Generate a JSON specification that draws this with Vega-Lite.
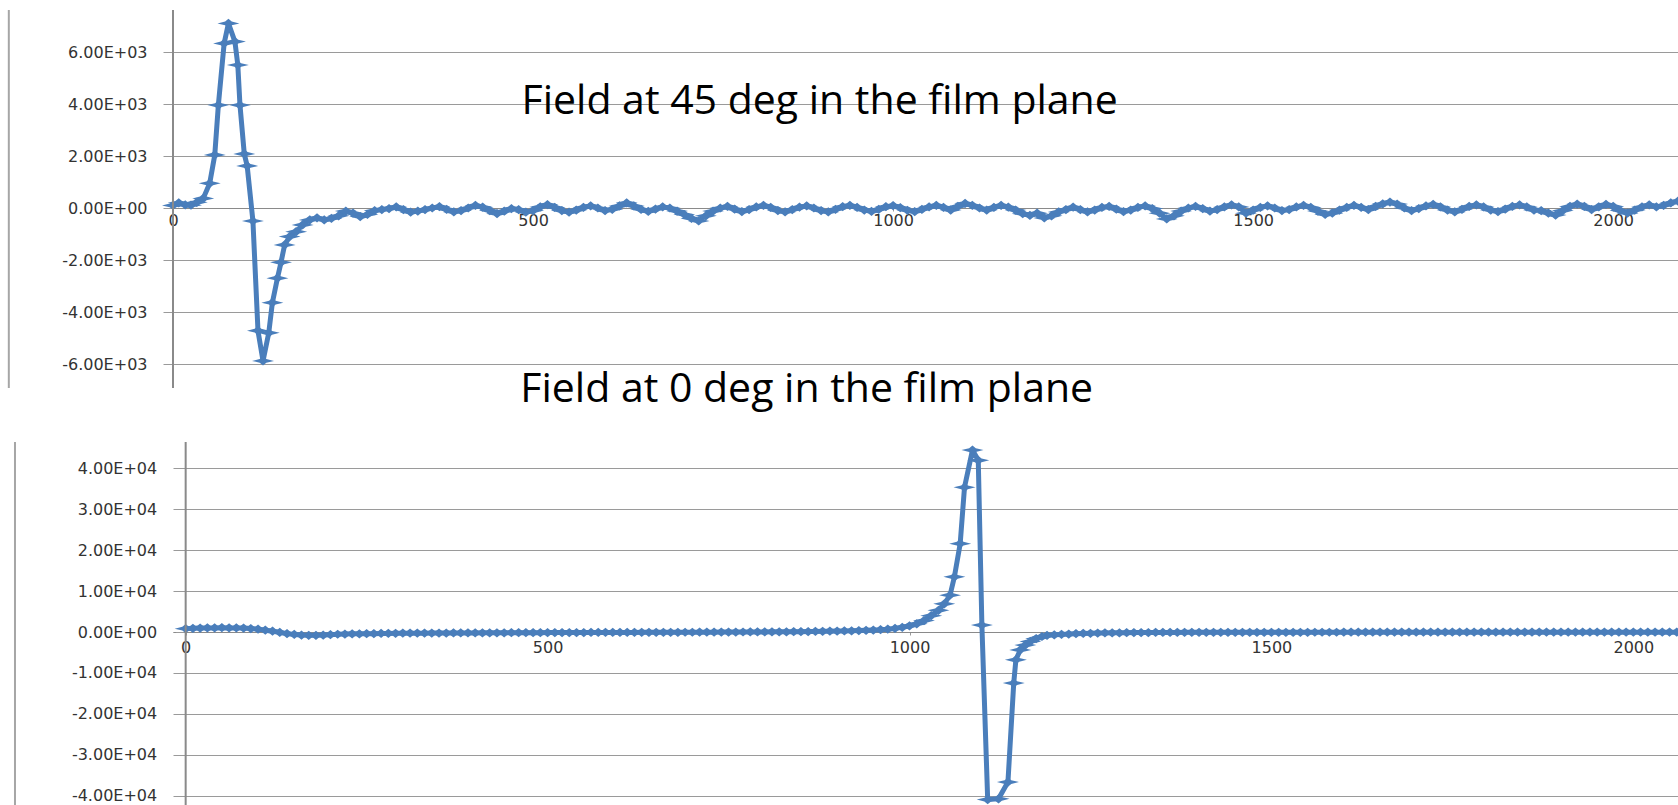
{
  "$schema": "https://vega.github.io/schema/vega-lite/v6.json",
  "width": 1505,
  "height": 795,
  "autosize": {"type": "none"},
  "padding": {"left": 173, "top": 10, "right": 0, "bottom": 0},
  "background": "white",
  "config": {
    "view": {"stroke": null},
    "axis": {
      "labelFont": "DejaVu Sans",
      "labelFontSize": 16,
      "labelColor": "#333333",
      "gridColor": "#9a9a9a",
      "gridWidth": 1,
      "tickColor": "#9a9a9a",
      "domainColor": "#8a8a8a",
      "title": null
    }
  },
  "datasets": {
    "top": [
      {"x":0,"v":100},{"x":8,"v":200},{"x":17,"v":120},{"x":25,"v":110},{"x":33,"v":220},{"x":42,"v":370},{"x":51,"v":950},{"x":58,"v":2040},{"x":63,"v":3960},{"x":71,"v":6330},{"x":77,"v":7100},{"x":86,"v":6400},{"x":90,"v":5500},{"x":93,"v":3960},{"x":99,"v":2080},{"x":103,"v":1620},{"x":111,"v":-500},{"x":118,"v":-4720},{"x":125,"v":-5880},{"x":133,"v":-4800},{"x":138,"v":-3640},{"x":145,"v":-2700},{"x":150,"v":-2090},{"x":155,"v":-1420},{"x":162,"v":-1100},{"x":171,"v":-910},{"x":180,"v":-650},{"x":190,"v":-460},
      {"x":200,"v":-380},{"x":210,"v":-460},{"x":220,"v":-400},{"x":230,"v":-300},{"x":240,"v":-120},{"x":250,"v":-200},{"x":260,"v":-330},{"x":270,"v":-250},{"x":280,"v":-100},{"x":290,"v":-60},
      {"x":300,"v":-20},{"x":310,"v":40},{"x":320,"v":-60},{"x":330,"v":-160},{"x":340,"v":-120},{"x":350,"v":-60},{"x":360,"v":0},{"x":370,"v":50},{"x":380,"v":-50},{"x":390,"v":-150},
      {"x":400,"v":-100},{"x":410,"v":0},{"x":420,"v":100},{"x":430,"v":30},{"x":440,"v":-100},{"x":450,"v":-220},{"x":460,"v":-120},{"x":470,"v":-20},{"x":480,"v":-60},{"x":490,"v":-160},
      {"x":500,"v":-100},{"x":510,"v":40},{"x":520,"v":130},{"x":530,"v":20},{"x":540,"v":-100},{"x":550,"v":-160},{"x":560,"v":-80},{"x":570,"v":20},{"x":580,"v":80},{"x":590,"v":0},
      {"x":600,"v":-100},{"x":610,"v":-50},{"x":620,"v":80},{"x":630,"v":200},{"x":640,"v":80},{"x":650,"v":-50},{"x":660,"v":-130},{"x":670,"v":-40},{"x":680,"v":40},{"x":690,"v":0},
      {"x":700,"v":-120},{"x":710,"v":-250},{"x":720,"v":-400},{"x":730,"v":-500},{"x":740,"v":-300},{"x":750,"v":-120},{"x":760,"v":0},{"x":770,"v":60},{"x":780,"v":-40},{"x":790,"v":-140},
      {"x":800,"v":-60},{"x":810,"v":40},{"x":820,"v":100},{"x":830,"v":20},{"x":840,"v":-100},{"x":850,"v":-150},{"x":860,"v":-60},{"x":870,"v":30},{"x":880,"v":80},{"x":890,"v":0},
      {"x":900,"v":-100},{"x":910,"v":-150},{"x":920,"v":-50},{"x":930,"v":50},{"x":940,"v":100},{"x":950,"v":20},{"x":960,"v":-80},{"x":970,"v":-130},{"x":980,"v":-50},{"x":990,"v":50},
      {"x":1000,"v":90},{"x":1010,"v":10},{"x":1020,"v":-90},{"x":1030,"v":-140},{"x":1040,"v":-50},{"x":1050,"v":40},{"x":1060,"v":100},{"x":1070,"v":20},{"x":1080,"v":-80},{"x":1090,"v":60},
      {"x":1100,"v":180},{"x":1110,"v":100},{"x":1120,"v":0},{"x":1130,"v":-80},{"x":1140,"v":20},{"x":1150,"v":100},{"x":1160,"v":30},{"x":1170,"v":-80},{"x":1180,"v":-220},{"x":1190,"v":-280},
      {"x":1200,"v":-200},{"x":1210,"v":-380},{"x":1220,"v":-300},{"x":1230,"v":-150},{"x":1240,"v":-60},{"x":1250,"v":30},{"x":1260,"v":-60},{"x":1270,"v":-150},{"x":1280,"v":-80},{"x":1290,"v":20},
      {"x":1300,"v":60},{"x":1310,"v":-40},{"x":1320,"v":-140},{"x":1330,"v":-80},{"x":1340,"v":20},{"x":1350,"v":80},{"x":1360,"v":-20},{"x":1370,"v":-200},{"x":1380,"v":-420},{"x":1390,"v":-300},
      {"x":1400,"v":-120},{"x":1410,"v":0},{"x":1420,"v":60},{"x":1430,"v":-20},{"x":1440,"v":-120},{"x":1450,"v":-60},{"x":1460,"v":40},{"x":1470,"v":120},{"x":1480,"v":40},{"x":1490,"v":-200},
      {"x":1500,"v":-80},{"x":1510,"v":20},{"x":1520,"v":80},{"x":1530,"v":0},{"x":1540,"v":-100},{"x":1550,"v":-60},{"x":1560,"v":40},{"x":1570,"v":100},{"x":1580,"v":20},{"x":1590,"v":-120},
      {"x":1600,"v":-250},{"x":1610,"v":-200},{"x":1620,"v":-80},{"x":1630,"v":20},{"x":1640,"v":100},{"x":1650,"v":20},{"x":1660,"v":-60},{"x":1670,"v":60},{"x":1680,"v":160},{"x":1690,"v":230},
      {"x":1700,"v":150},{"x":1710,"v":0},{"x":1720,"v":-100},{"x":1730,"v":-20},{"x":1740,"v":80},{"x":1750,"v":140},{"x":1760,"v":40},{"x":1770,"v":-80},{"x":1780,"v":-150},{"x":1790,"v":-50},
      {"x":1800,"v":60},{"x":1810,"v":120},{"x":1820,"v":40},{"x":1830,"v":-80},{"x":1840,"v":-140},{"x":1850,"v":-40},{"x":1860,"v":60},{"x":1870,"v":120},{"x":1880,"v":40},{"x":1890,"v":-80},
      {"x":1900,"v":-100},{"x":1910,"v":-200},{"x":1920,"v":-270},{"x":1930,"v":-100},{"x":1940,"v":60},{"x":1950,"v":150},{"x":1960,"v":60},{"x":1970,"v":-60},{"x":1980,"v":40},{"x":1990,"v":140},
      {"x":2000,"v":60},{"x":2010,"v":-100},{"x":2020,"v":-200},{"x":2030,"v":-80},{"x":2040,"v":40},{"x":2050,"v":120},{"x":2060,"v":40},{"x":2070,"v":100},{"x":2080,"v":200},{"x":2090,"v":260}
    ],
    "bottom": [
      {"x":0,"v":800},{"x":10,"v":900},{"x":20,"v":950},{"x":30,"v":1000},{"x":40,"v":1000},{"x":50,"v":1050},{"x":60,"v":1000},{"x":70,"v":1000},{"x":80,"v":950},{"x":90,"v":850},
      {"x":100,"v":700},{"x":110,"v":450},{"x":120,"v":200},{"x":130,"v":-100},{"x":140,"v":-400},{"x":150,"v":-600},{"x":160,"v":-750},{"x":170,"v":-800},{"x":180,"v":-800},{"x":190,"v":-750},
      {"x":200,"v":-650},{"x":210,"v":-550},{"x":220,"v":-500},{"x":230,"v":-450},{"x":240,"v":-450},{"x":250,"v":-400},{"x":260,"v":-400},{"x":270,"v":-350},{"x":280,"v":-350},{"x":290,"v":-330},
      {"x":300,"v":-300},{"x":310,"v":-300},{"x":320,"v":-280},{"x":330,"v":-280},{"x":340,"v":-260},{"x":350,"v":-250},{"x":360,"v":-250},{"x":370,"v":-240},{"x":380,"v":-230},{"x":390,"v":-220},
      {"x":400,"v":-220},{"x":410,"v":-210},{"x":420,"v":-200},{"x":430,"v":-200},{"x":440,"v":-190},{"x":450,"v":-180},{"x":460,"v":-180},{"x":470,"v":-170},{"x":480,"v":-160},{"x":490,"v":-160},
      {"x":500,"v":-150},{"x":510,"v":-150},{"x":520,"v":-140},{"x":530,"v":-140},{"x":540,"v":-130},{"x":550,"v":-130},{"x":560,"v":-120},{"x":570,"v":-120},{"x":580,"v":-110},{"x":590,"v":-110},
      {"x":600,"v":-100},{"x":610,"v":-100},{"x":620,"v":-100},{"x":630,"v":-90},{"x":640,"v":-90},{"x":650,"v":-80},{"x":660,"v":-80},{"x":670,"v":-70},{"x":680,"v":-70},{"x":690,"v":-60},
      {"x":700,"v":-60},{"x":710,"v":-50},{"x":720,"v":-50},{"x":730,"v":-40},{"x":740,"v":-30},{"x":750,"v":-20},{"x":760,"v":-10},{"x":770,"v":0},{"x":780,"v":10},{"x":790,"v":20},
      {"x":800,"v":30},{"x":810,"v":40},{"x":820,"v":50},{"x":830,"v":60},{"x":840,"v":70},{"x":850,"v":90},{"x":860,"v":110},{"x":870,"v":130},{"x":880,"v":160},{"x":890,"v":190},
      {"x":900,"v":220},{"x":910,"v":260},{"x":920,"v":300},{"x":930,"v":350},{"x":940,"v":410},{"x":950,"v":480},{"x":960,"v":560},{"x":970,"v":700},{"x":980,"v":880},{"x":990,"v":1150},
      {"x":1000,"v":1500},{"x":1010,"v":2000},{"x":1020,"v":2800},{"x":1030,"v":4000},{"x":1040,"v":5300},{"x":1048,"v":6900},{"x":1056,"v":9000},{"x":1062,"v":13500},{"x":1070,"v":21600},{"x":1076,"v":35400},
      {"x":1087,"v":44500},{"x":1095,"v":42000},{"x":1100,"v":1700},{"x":1108,"v":-41000},{"x":1123,"v":-40800},{"x":1136,"v":-36700},{"x":1144,"v":-12500},{"x":1147,"v":-6800},{"x":1153,"v":-4400},{"x":1160,"v":-3200},
      {"x":1167,"v":-2300},{"x":1175,"v":-1600},{"x":1183,"v":-1100},{"x":1190,"v":-850},{"x":1200,"v":-700},{"x":1210,"v":-600},{"x":1220,"v":-500},{"x":1230,"v":-420},{"x":1240,"v":-360},{"x":1250,"v":-310},
      {"x":1260,"v":-270},{"x":1270,"v":-240},{"x":1280,"v":-210},{"x":1290,"v":-190},{"x":1300,"v":-170},{"x":1310,"v":-150},{"x":1320,"v":-140},{"x":1330,"v":-130},{"x":1340,"v":-120},{"x":1350,"v":-110},
      {"x":1360,"v":-100},{"x":1370,"v":-95},{"x":1380,"v":-90},{"x":1390,"v":-85},{"x":1400,"v":-80},{"x":1410,"v":-80},{"x":1420,"v":-80},{"x":1430,"v":-78},{"x":1440,"v":-76},{"x":1450,"v":-75},
      {"x":1460,"v":-74},{"x":1470,"v":-72},{"x":1480,"v":-70},{"x":1490,"v":-70},{"x":1500,"v":-68},{"x":1510,"v":-67},{"x":1520,"v":-66},{"x":1530,"v":-65},{"x":1540,"v":-64},{"x":1550,"v":-63},
      {"x":1560,"v":-62},{"x":1570,"v":-61},{"x":1580,"v":-60},{"x":1590,"v":-60},{"x":1600,"v":-59},{"x":1610,"v":-58},{"x":1620,"v":-57},{"x":1630,"v":-56},{"x":1640,"v":-55},{"x":1650,"v":-55},
      {"x":1660,"v":-54},{"x":1670,"v":-54},{"x":1680,"v":-53},{"x":1690,"v":-53},{"x":1700,"v":-52},{"x":1710,"v":-52},{"x":1720,"v":-51},{"x":1730,"v":-51},{"x":1740,"v":-50},{"x":1750,"v":-50},
      {"x":1760,"v":-49},{"x":1770,"v":-49},{"x":1780,"v":-48},{"x":1790,"v":-48},{"x":1800,"v":-47},{"x":1810,"v":-47},{"x":1820,"v":-46},{"x":1830,"v":-46},{"x":1840,"v":-45},{"x":1850,"v":-45},
      {"x":1860,"v":-44},{"x":1870,"v":-44},{"x":1880,"v":-43},{"x":1890,"v":-43},{"x":1900,"v":-42},{"x":1910,"v":-42},{"x":1920,"v":-41},{"x":1930,"v":-41},{"x":1940,"v":-40},{"x":1950,"v":-40},
      {"x":1960,"v":-40},{"x":1970,"v":-39},{"x":1980,"v":-39},{"x":1990,"v":-38},{"x":2000,"v":-38},{"x":2010,"v":-37},{"x":2020,"v":-37},{"x":2030,"v":-36},{"x":2040,"v":-36},{"x":2050,"v":-35},{"x":2060,"v":-35}
    ]
  },
  "layer": [
    {
      "data": {"name": "top"},
      "mark": {"type": "line", "color": "#4A7EBB", "strokeWidth": 5, "strokeJoin": "round"},
      "encoding": {
        "x": {"field": "x", "type": "quantitative",
          "scale": {"domain": [0, 2090], "nice": false, "zero": false},
          "axis": {"orient": "bottom", "offset": -597, "values": [0, 500, 1000, 1500, 2000], "format": "d", "grid": false, "domain": true, "domainWidth": 1, "ticks": true, "tickSize": 3, "labelPadding": 1, "labelFontSize": 16, "labelFlush": false, "labelOverlap": false}},
        "y": {"field": "v", "type": "quantitative",
          "scale": {"domain": [-22961.5, 7615.4], "nice": false, "zero": false},
          "axis": {"orient": "left", "values": [-6000, -4000, -2000, 0, 2000, 4000, 6000], "grid": true, "domain": false, "ticks": true, "tickSize": 10, "labelPadding": 16, "labelFontSize": 16, "labelOverlap": false,
            "labelExpr": "replace(replace(format(datum.value, '.2e'), 'e+', 'E+0'), '\u2212', '-')"}}
      }
    },
    {
      "data": {"name": "top"},
      "mark": {"type": "point", "shape": "M-1,0L-0.3,-0.17L0,-0.42L0.3,-0.17L1,0L0.3,0.17L0,0.42L-0.3,0.17Z", "size": 484, "filled": true, "color": "#4A7EBB", "opacity": 1, "strokeWidth": 0},
      "encoding": {
        "x": {"field": "x", "type": "quantitative", "scale": {"domain": [0, 2090], "nice": false, "zero": false}, "axis": null},
        "y": {"field": "v", "type": "quantitative", "scale": {"domain": [-22961.5, 7615.4], "nice": false, "zero": false}, "axis": null}
      }
    },
    {
      "data": {"values": [{"part": "axis"}]},
      "mark": {"type": "rule", "color": "#8a8a8a", "strokeWidth": 2},
      "encoding": {
        "x": {"datum": 0, "type": "quantitative", "scale": {"domain": [0, 2090], "nice": false, "zero": false}, "axis": null},
        "y": {"datum": 7615, "type": "quantitative", "scale": {"domain": [-22961.5, 7615.4], "nice": false, "zero": false}, "axis": null},
        "y2": {"datum": -6923}
      }
    },
    {
      "data": {"values": [{"part": "frame"}]},
      "mark": {"type": "rule", "color": "#a6a6a6", "strokeWidth": 2},
      "encoding": {
        "x": {"datum": -228, "type": "quantitative", "scale": {"domain": [0, 2090], "nice": false, "zero": false}, "axis": null},
        "y": {"datum": 7615, "type": "quantitative", "scale": {"domain": [-22961.5, 7615.4], "nice": false, "zero": false}, "axis": null},
        "y2": {"datum": -6923}
      }
    },
    {
      "data": {"values": [{"label": "Field at 45 deg in the film plane"}]},
      "mark": {"type": "text", "font": "Open Sans", "fontSize": 41, "color": "#000000", "align": "center", "baseline": "alphabetic"},
      "encoding": {
        "x": {"datum": 898, "type": "quantitative", "scale": {"domain": [0, 2090], "nice": false, "zero": false}, "axis": null},
        "y": {"datum": 3600, "type": "quantitative", "scale": {"domain": [-22961.5, 7615.4], "nice": false, "zero": false}, "axis": null},
        "text": {"field": "label"}
      }
    },
    {
      "data": {"values": [{"label": "Field at 0 deg in the film plane"}]},
      "mark": {"type": "text", "font": "Open Sans", "fontSize": 41, "color": "#000000", "align": "center", "baseline": "alphabetic"},
      "encoding": {
        "x": {"datum": 880, "type": "quantitative", "scale": {"domain": [0, 2090], "nice": false, "zero": false}, "axis": null},
        "y": {"datum": -7450, "type": "quantitative", "scale": {"domain": [-22961.5, 7615.4], "nice": false, "zero": false}, "axis": null},
        "text": {"field": "label"}
      }
    },
    {
      "data": {"name": "bottom"},
      "mark": {"type": "line", "color": "#4A7EBB", "strokeWidth": 5, "strokeJoin": "round"},
      "encoding": {
        "x": {"field": "x", "type": "quantitative",
          "scale": {"domain": [-17.5, 2061.7], "nice": false, "zero": false},
          "axis": {"orient": "bottom", "offset": -173, "values": [0, 500, 1000, 1500, 2000], "format": "d", "grid": false, "domain": true, "domainWidth": 1, "ticks": true, "tickSize": 3, "labelPadding": 4, "labelFontSize": 16, "labelFlush": false, "labelOverlap": false}},
        "y": {"field": "v", "type": "quantitative",
          "scale": {"domain": [-42324, 152171], "nice": false, "zero": false},
          "axis": {"orient": "left", "offset": -12.7, "values": [-40000, -30000, -20000, -10000, 0, 10000, 20000, 30000, 40000], "grid": true, "domain": false, "ticks": true, "tickSize": 10, "labelPadding": 19, "labelFontSize": 16, "labelOverlap": false,
            "labelExpr": "replace(replace(format(datum.value, '.2e'), 'e+', 'E+0'), '\u2212', '-')"}}
      }
    },
    {
      "data": {"name": "bottom"},
      "mark": {"type": "point", "shape": "M-1,0L-0.3,-0.17L0,-0.42L0.3,-0.17L1,0L0.3,0.17L0,0.42L-0.3,0.17Z", "size": 484, "filled": true, "color": "#4A7EBB", "opacity": 1, "strokeWidth": 0},
      "encoding": {
        "x": {"field": "x", "type": "quantitative", "scale": {"domain": [-17.5, 2061.7], "nice": false, "zero": false}, "axis": null},
        "y": {"field": "v", "type": "quantitative", "scale": {"domain": [-42324, 152171], "nice": false, "zero": false}, "axis": null}
      }
    },
    {
      "data": {"values": [{"part": "axis"}]},
      "mark": {"type": "rule", "color": "#8a8a8a", "strokeWidth": 2},
      "encoding": {
        "x": {"datum": 0, "type": "quantitative", "scale": {"domain": [-17.5, 2061.7], "nice": false, "zero": false}, "axis": null},
        "y": {"datum": 46483, "type": "quantitative", "scale": {"domain": [-42324, 152171], "nice": false, "zero": false}, "axis": null},
        "y2": {"datum": -42324}
      }
    },
    {
      "data": {"values": [{"part": "frame"}]},
      "mark": {"type": "rule", "color": "#a6a6a6", "strokeWidth": 2},
      "encoding": {
        "x": {"datum": -235.8, "type": "quantitative", "scale": {"domain": [-17.5, 2061.7], "nice": false, "zero": false}, "axis": null},
        "y": {"datum": 46483, "type": "quantitative", "scale": {"domain": [-42324, 152171], "nice": false, "zero": false}, "axis": null},
        "y2": {"datum": -42324}
      }
    }
  ],
  "resolve": {"scale": {"x": "independent", "y": "independent"}, "axis": {"x": "independent", "y": "independent"}}
}
